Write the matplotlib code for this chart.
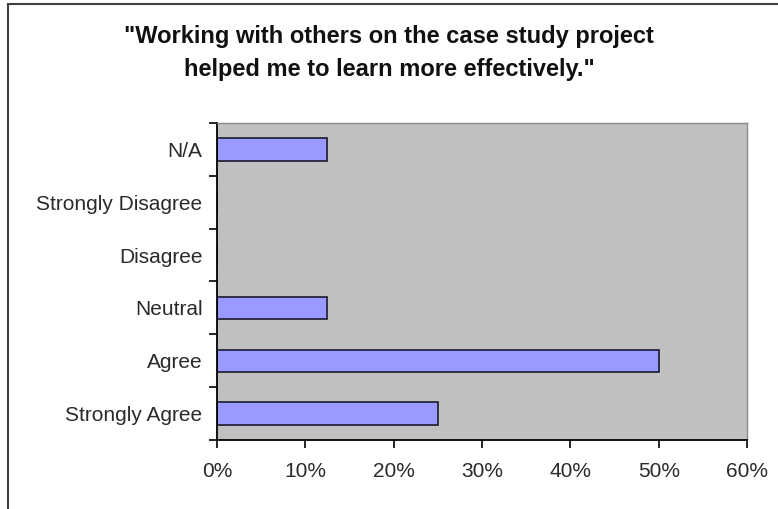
import numpy as np
import matplotlib.pyplot as plt
from matplotlib.patches import Rectangle
from matplotlib.ticker import FuncFormatter

plt.rcParams['font.family'] = ['Liberation Sans', 'DejaVu Sans']

# survey responses, bottom to top
categories = ['Strongly Agree', 'Agree', 'Neutral', 'Disagree', 'Strongly Disagree', 'N/A']
shares = [25.0, 50.0, 12.5, 0.0, 0.0, 12.5]
xticks = [0, 10, 20, 30, 40, 50, 60]

fig = plt.figure(figsize=(7.78, 5.09), dpi=100)
W, H = 778, 509
ax = fig.add_axes([217 / W, 1 - 440 / H, 530 / W, 317 / H])

# outer chart border (only left and top edges are in view)
fig.patches.append(Rectangle((8 / W, -0.1), 1.2, 1 - 4 / H + 0.1, transform=fig.transFigure,
                             fill=False, edgecolor='#404040', linewidth=1.5))

y = np.arange(len(categories))
ax.barh(y, shares, height=0.42, color='#9999FF', edgecolor='#1a1a2e', linewidth=1.2)

ax.set_facecolor('#C0C0C0')
ax.set_xlim(0, 60)
ax.set_ylim(-0.5, len(categories) - 0.5)
ax.set_xticks(xticks)
ax.xaxis.set_major_formatter(FuncFormatter(lambda v, p: f'{v:.0f}%'))
ax.set_yticks(y)
ax.set_yticklabels(categories)
ax.set_yticks(np.arange(len(categories) + 1) - 0.5, minor=True)
ax.tick_params(axis='y', which='major', length=0, pad=10.5, labelsize=15, labelcolor='#2a2a2a')
ax.tick_params(axis='y', which='minor', length=6, width=1.2, color='black')
ax.tick_params(axis='x', length=6, width=1.2, pad=10, labelsize=15, labelcolor='#2a2a2a')

for side in ['top', 'right']:
    ax.spines[side].set_color('#8a8a8a')
    ax.spines[side].set_linewidth(1.0)
for side in ['left', 'bottom']:
    ax.spines[side].set_color('black')
    ax.spines[side].set_linewidth(1.3)

fig.text(0.5, 1 - 53 / H, '"Working with others on the case study project\nhelped me to learn more effectively."',
         ha='center', va='center', fontsize=17, fontweight='bold', linespacing=1.6, color='#111111')

plt.savefig('out.png', dpi=100)
